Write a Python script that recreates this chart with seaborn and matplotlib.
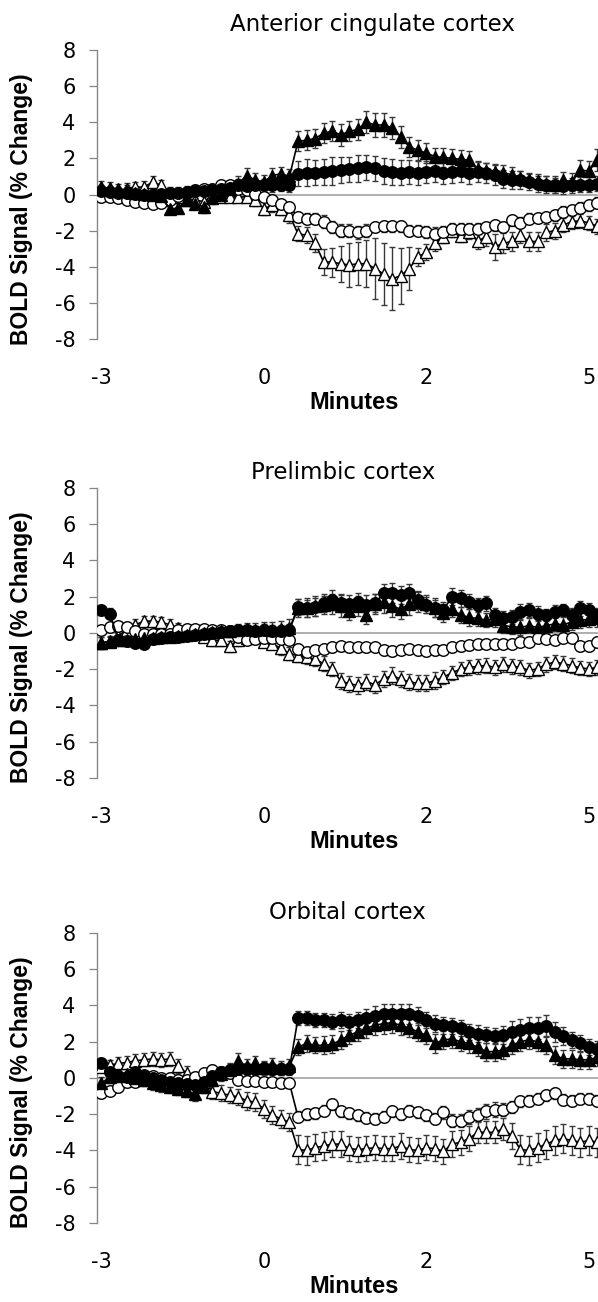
import numpy as np
import pandas as pd
import seaborn as sns
import matplotlib.pyplot as plt

# sample index along the category axis (one entry per scan point)
n_points = 59
sample_idx = np.arange(n_points)

x_tick_labels = ["-3", "0", "2", "5"]
x_tick_idx = [0, 19, 38, 57]
y_tick_labels = ["-8", "-6", "-4", "-2", "0", "2", "4", "6", "8"]

titles = ["Anterior cingulate cortex", "Prelimbic cortex", "Orbital cortex"]

# ---- Anterior cingulate cortex ----
acc_ft = [0.4, 0.35, 0.3, 0.2, 0.1, 0.05, 0.0, -0.1, -0.8, -0.75, -0.3, -0.5,
          -0.7, -0.2, 0.0, 0.3, 0.6, 1.05, 0.8, 0.7, 1.05, 1.15, 1.0,
          2.95, 3.0, 3.1, 3.4, 3.5, 3.3, 3.5, 3.6, 4.0, 3.85, 3.85, 3.7,
          3.2, 2.65, 2.45, 2.3, 2.1, 2.05, 2.0, 1.95, 1.9, 1.4, 1.3, 1.25,
          1.2, 1.1, 0.9, 0.8, 0.75, 0.6, 0.55, 0.8, 0.7, 1.35, 1.3, 1.9]
acc_fc = [0.2, 0.15, 0.1, 0.1, 0.05, 0.0, 0.0, 0.05, 0.1, 0.1, 0.15, 0.2,
          0.2, 0.25, 0.3, 0.35, 0.5, 0.45, 0.5, 0.5, 0.5, 0.55, 0.5,
          1.15, 1.2, 1.2, 1.25, 1.3, 1.35, 1.4, 1.45, 1.5, 1.45, 1.3, 1.25,
          1.2, 1.25, 1.2, 1.25, 1.3, 1.2, 1.25, 1.3, 1.2, 1.25, 1.2, 1.1,
          0.85, 0.8, 0.8, 0.7, 0.6, 0.55, 0.5, 0.45, 0.5, 0.55, 0.55, 0.6]
acc_oc = [-0.13, -0.15, -0.2, -0.3, -0.4, -0.45, -0.5, -0.45, -0.3, -0.1, 0.1, 0.24,
          0.33, 0.33, 0.5, 0.5, 0.33, 0.24, 0.05, -0.13, -0.3, -0.5, -0.7,
          -1.24, -1.33, -1.33, -1.5, -1.8, -2.0, -2.0, -2.1, -2.0, -1.8, -1.76, -1.76,
          -1.76, -2.0, -2.0, -2.07, -2.17, -2.07, -1.9, -1.9, -1.9, -1.9, -1.8, -1.7,
          -1.8, -1.43, -1.57, -1.33, -1.3, -1.24, -1.15, -0.96, -0.87, -0.72, -0.6, -0.46]
acc_ot = [0.15, -0.04, -0.04, 0.33, 0.42, 0.4, 0.7, 0.5, -0.13, -0.13, -0.3, -0.3,
          -0.4, -0.04, -0.13, -0.13, -0.13, -0.13, -0.3, -0.78, -0.6, -0.78, -1.15,
          -2.17, -2.26, -2.7, -3.74, -3.74, -3.83, -3.9, -3.83, -3.83, -4.1, -4.4, -4.67,
          -4.5, -4.1, -3.46, -3.2, -2.7, -2.35, -2.0, -2.3, -2.07, -2.57, -2.35, -2.9,
          -2.7, -2.6, -2.26, -2.6, -2.6, -2.1, -2.0, -1.7, -1.5, -1.46, -1.57, -1.76]
acc_ft_err = [0.35, 0.35, 0.3, 0.3, 0.3, 0.3, 0.3, 0.3, 0.3, 0.3, 0.3, 0.3,
              0.3, 0.3, 0.3, 0.35, 0.4, 0.4, 0.4, 0.4, 0.4, 0.4, 0.4,
              0.55, 0.55, 0.5, 0.55, 0.55, 0.6, 0.55, 0.6, 0.6, 0.65, 0.65, 0.6,
              0.6, 0.55, 0.55, 0.55, 0.5, 0.5, 0.5, 0.5, 0.5, 0.45, 0.45, 0.45,
              0.45, 0.45, 0.4, 0.4, 0.4, 0.4, 0.45, 0.45, 0.5, 0.55, 0.55, 0.6]
acc_fc_err = [0.3, 0.3, 0.3, 0.3, 0.3, 0.3, 0.3, 0.3, 0.3, 0.3, 0.3, 0.3,
              0.3, 0.3, 0.3, 0.3, 0.35, 0.35, 0.35, 0.35, 0.35, 0.35, 0.35,
              0.7, 0.75, 0.7, 0.7, 0.75, 0.7, 0.7, 0.75, 0.7, 0.7, 0.7, 0.7,
              0.7, 0.65, 0.65, 0.6, 0.6, 0.6, 0.6, 0.6, 0.6, 0.55, 0.55, 0.55,
              0.5, 0.5, 0.5, 0.45, 0.45, 0.45, 0.4, 0.4, 0.4, 0.4, 0.4, 0.4]
acc_oc_err = [0.2, 0.2, 0.2, 0.2, 0.2, 0.25, 0.25, 0.2, 0.2, 0.2, 0.2, 0.2,
              0.2, 0.2, 0.2, 0.2, 0.2, 0.2, 0.2, 0.25, 0.25, 0.25, 0.3,
              0.3, 0.3, 0.3, 0.35, 0.35, 0.35, 0.35, 0.35, 0.35, 0.3, 0.3, 0.3,
              0.3, 0.3, 0.3, 0.35, 0.35, 0.35, 0.3, 0.3, 0.3, 0.3, 0.3, 0.3,
              0.3, 0.3, 0.3, 0.3, 0.3, 0.3, 0.3, 0.3, 0.3, 0.3, 0.3, 0.3]
acc_ot_err = [0.3, 0.3, 0.35, 0.3, 0.3, 0.35, 0.3, 0.3, 0.3, 0.35, 0.3, 0.3,
              0.3, 0.3, 0.3, 0.3, 0.3, 0.3, 0.35, 0.35, 0.35, 0.35, 0.4,
              0.4, 0.45, 0.5, 0.7, 0.8, 1.0, 1.2, 1.2, 1.3, 1.7, 1.7, 1.75,
              1.55, 1.2, 0.5, 0.45, 0.4, 0.35, 0.35, 0.35, 0.4, 0.45, 0.5, 0.7,
              0.55, 0.5, 0.45, 0.5, 0.5, 0.45, 0.45, 0.4, 0.4, 0.4, 0.4, 0.4]

# ---- Prelimbic cortex ----
pl_ft = [-0.55, -0.5, -0.4, -0.4, -0.35, -0.3, -0.3, -0.25, -0.2, -0.15, -0.1, -0.05,
         0.0, 0.05, 0.1, 0.1, 0.15, 0.2, 0.15, 0.2, 0.15, 0.2, 0.25,
         1.35, 1.4, 1.5, 1.55, 1.6, 1.5, 1.2, 1.5, 1.0, 1.6, 1.7, 1.5,
         1.3, 1.6, 1.7, 1.6, 1.4, 1.1, 1.3, 1.0, 0.85, 0.8, 0.7, 0.75,
         0.4, 0.35, 0.3, 0.4, 0.3, 0.4, 0.5, 0.45, 0.6, 0.7, 0.75, 0.8]
pl_fc = [1.26, 1.07, -0.4, -0.45, -0.55, -0.6, -0.35, -0.3, -0.25, -0.2, -0.15, -0.1,
         -0.05, 0.0, 0.05, 0.1, 0.15, 0.15, 0.1, 0.15, 0.1, 0.1, 0.15,
         1.44, 1.35, 1.44, 1.63, 1.8, 1.63, 1.6, 1.72, 1.54, 1.63, 2.19, 2.19,
         2.1, 2.19, 1.8, 1.54, 1.35, 1.26, 2.0, 1.9, 1.72, 1.54, 1.63, 0.98,
         0.8, 0.89, 1.17, 1.26, 1.07, 0.98, 1.17, 1.26, 1.0, 1.35, 1.26, 0.98]
pl_oc = [0.15, 0.33, 0.37, 0.33, 0.1, -0.07, -0.07, -0.07, -0.05, 0.15, 0.2, 0.24,
         0.2, 0.15, 0.15, 0.1, -0.2, -0.4, -0.35, -0.3, -0.3, -0.35, -0.4,
         -0.87, -1.05, -0.96, -0.87, -0.8, -0.74, -0.8, -0.8, -0.8, -0.8, -0.96, -1.0,
         -0.93, -0.87, -0.96, -1.0, -0.96, -0.93, -0.8, -0.74, -0.68, -0.63, -0.6, -0.63,
         -0.6, -0.6, -0.5, -0.5, -0.26, -0.31, -0.37, -0.26, -0.26, -0.74, -0.74, -0.5]
pl_ot = [-0.55, -0.45, -0.15, 0.15, 0.45, 0.65, 0.65, 0.6, 0.45, 0.25, 0.15, 0.1,
         -0.2, -0.4, -0.4, -0.75, -0.4, -0.3, -0.25, -0.5, -0.6, -0.85, -1.15,
         -1.25, -1.35, -1.45, -1.7, -2.0, -2.65, -2.8, -2.9, -2.7, -2.85, -2.55, -2.35,
         -2.55, -2.7, -2.78, -2.78, -2.63, -2.44, -2.2, -2.0, -1.9, -1.85, -1.8, -1.9,
         -1.74, -1.85, -1.9, -2.07, -1.98, -1.74, -1.6, -1.7, -1.8, -1.93, -1.98, -1.9]
pl_ft_err = [0.35, 0.3, 0.3, 0.3, 0.3, 0.3, 0.3, 0.3, 0.3, 0.3, 0.3, 0.3,
             0.3, 0.3, 0.3, 0.3, 0.35, 0.35, 0.4, 0.4, 0.45, 0.45, 0.5,
             0.5, 0.5, 0.55, 0.5, 0.55, 0.6, 0.5, 0.55, 0.5, 0.55, 0.6, 0.6,
             0.55, 0.6, 0.55, 0.5, 0.5, 0.5, 0.45, 0.45, 0.45, 0.4, 0.4, 0.4,
             0.4, 0.4, 0.4, 0.4, 0.4, 0.4, 0.4, 0.4, 0.45, 0.45, 0.45, 0.45]
pl_fc_err = [0.3, 0.3, 0.25, 0.25, 0.25, 0.25, 0.25, 0.25, 0.25, 0.25, 0.25, 0.25,
             0.25, 0.25, 0.25, 0.3, 0.3, 0.3, 0.3, 0.35, 0.35, 0.35, 0.35,
             0.45, 0.45, 0.5, 0.5, 0.55, 0.5, 0.5, 0.5, 0.55, 0.5, 0.5, 0.55,
             0.5, 0.5, 0.5, 0.45, 0.45, 0.45, 0.45, 0.45, 0.4, 0.4, 0.4, 0.4,
             0.4, 0.4, 0.4, 0.4, 0.4, 0.35, 0.35, 0.35, 0.4, 0.4, 0.4, 0.4]
pl_oc_err = [0.2, 0.2, 0.2, 0.2, 0.2, 0.2, 0.2, 0.2, 0.2, 0.2, 0.2, 0.2,
             0.2, 0.2, 0.2, 0.2, 0.2, 0.2, 0.2, 0.2, 0.2, 0.2, 0.2,
             0.25, 0.25, 0.25, 0.25, 0.25, 0.25, 0.25, 0.25, 0.25, 0.25, 0.25, 0.25,
             0.25, 0.25, 0.25, 0.25, 0.25, 0.25, 0.25, 0.25, 0.25, 0.25, 0.25, 0.25,
             0.25, 0.25, 0.25, 0.25, 0.25, 0.25, 0.25, 0.25, 0.25, 0.25, 0.25, 0.25]
pl_ot_err = [0.3, 0.3, 0.3, 0.3, 0.3, 0.3, 0.3, 0.3, 0.3, 0.3, 0.3, 0.3,
             0.3, 0.3, 0.3, 0.3, 0.3, 0.3, 0.3, 0.3, 0.3, 0.35, 0.35,
             0.35, 0.35, 0.4, 0.4, 0.4, 0.45, 0.45, 0.45, 0.45, 0.45, 0.45, 0.45,
             0.45, 0.45, 0.45, 0.45, 0.45, 0.4, 0.4, 0.4, 0.4, 0.4, 0.4, 0.4,
             0.4, 0.4, 0.4, 0.4, 0.4, 0.4, 0.4, 0.4, 0.4, 0.4, 0.4, 0.4]

# ---- Orbital cortex ----
orb_ft = [-0.3, 0.05, 0.1, 0.2, 0.0, -0.1, -0.3, -0.4, -0.5, -0.6, -0.7, -0.9,
          -0.5, -0.1, 0.2, 0.45, 0.95, 0.65, 0.8, 0.55, 0.7, 0.55, 0.65,
          1.7, 1.9, 1.8, 1.8, 1.85, 2.1, 2.35, 2.55, 2.75, 2.9, 3.0, 3.05,
          2.9, 2.75, 2.55, 2.35, 1.9, 2.1, 2.15, 2.0, 1.9, 1.7, 1.45, 1.45,
          1.55, 1.8, 2.0, 2.1, 2.0, 1.8, 1.25, 1.05, 1.05, 1.0, 1.0, 1.15]
orb_fc = [0.8, 0.3, 0.1, 0.05, 0.3, 0.1, 0.0, -0.1, -0.2, -0.3, -0.35, -0.4,
          -0.2, 0.1, 0.3, 0.45, 0.5, 0.5, 0.5, 0.55, 0.5, 0.5, 0.5,
          3.3, 3.3, 3.2, 3.2, 3.1, 3.2, 3.1, 3.2, 3.3, 3.4, 3.5, 3.55,
          3.55, 3.5, 3.4, 3.2, 3.0, 2.9, 2.85, 2.75, 2.55, 2.45, 2.35, 2.3,
          2.35, 2.55, 2.65, 2.75, 2.75, 2.85, 2.55, 2.3, 2.1, 1.9, 1.7, 1.6]
orb_oc = [-0.85, -0.7, -0.5, -0.25, -0.2, 0.15, 0.1, 0.0, 0.0, -0.1, -0.1, 0.05,
          0.25, 0.45, 0.35, 0.25, -0.1, -0.15, -0.15, -0.2, -0.25, -0.3, -0.3,
          -2.15, -2.0, -1.95, -1.8, -1.45, -1.85, -1.95, -2.05, -2.2, -2.25, -2.15, -1.85,
          -2.0, -1.8, -1.9, -2.05, -2.25, -1.9, -2.35, -2.35, -2.15, -2.05, -1.85, -1.75,
          -1.75, -1.6, -1.3, -1.25, -1.15, -0.95, -0.85, -1.2, -1.25, -1.15, -1.15, -1.25]
orb_ot = [0.6, 0.7, 0.8, 0.85, 0.95, 1.0, 1.05, 1.0, 1.05, 0.65, 0.25, -0.15,
          -0.2, -0.75, -0.85, -0.95, -1.05, -1.25, -1.35, -1.7, -2.05, -2.25, -2.45,
          -3.95, -4.0, -3.85, -3.75, -3.65, -3.65, -3.9, -3.95, -3.9, -3.85, -3.9, -3.9,
          -3.75, -3.95, -4.0, -3.85, -3.9, -4.05, -3.65, -3.55, -3.35, -3.0, -3.0, -3.0,
          -2.8, -3.2, -3.95, -4.0, -3.85, -3.65, -3.45, -3.35, -3.45, -3.55, -3.45, -3.55]
orb_ft_err = [0.35, 0.35, 0.35, 0.35, 0.35, 0.35, 0.35, 0.35, 0.35, 0.35, 0.35, 0.35,
              0.35, 0.35, 0.35, 0.35, 0.4, 0.4, 0.4, 0.4, 0.4, 0.4, 0.4,
              0.45, 0.45, 0.45, 0.5, 0.5, 0.5, 0.5, 0.5, 0.55, 0.55, 0.55, 0.55,
              0.55, 0.5, 0.5, 0.5, 0.5, 0.5, 0.5, 0.5, 0.5, 0.5, 0.5, 0.5,
              0.5, 0.5, 0.5, 0.5, 0.5, 0.5, 0.5, 0.5, 0.5, 0.5, 0.5, 0.5]
orb_fc_err = [0.3, 0.3, 0.3, 0.3, 0.3, 0.3, 0.3, 0.3, 0.3, 0.3, 0.3, 0.3,
              0.3, 0.3, 0.3, 0.3, 0.35, 0.35, 0.35, 0.35, 0.35, 0.35, 0.35,
              0.4, 0.4, 0.4, 0.4, 0.4, 0.45, 0.45, 0.45, 0.5, 0.55, 0.55, 0.55,
              0.55, 0.55, 0.5, 0.45, 0.45, 0.45, 0.45, 0.45, 0.45, 0.45, 0.45, 0.45,
              0.5, 0.6, 0.6, 0.6, 0.6, 0.6, 0.55, 0.5, 0.45, 0.45, 0.45, 0.45]
orb_oc_err = [0.25, 0.25, 0.25, 0.25, 0.25, 0.25, 0.25, 0.25, 0.25, 0.25, 0.25, 0.25,
              0.25, 0.25, 0.25, 0.25, 0.25, 0.25, 0.25, 0.25, 0.25, 0.25, 0.25,
              0.3, 0.3, 0.3, 0.3, 0.3, 0.3, 0.3, 0.3, 0.3, 0.3, 0.3, 0.3,
              0.3, 0.3, 0.3, 0.3, 0.3, 0.35, 0.35, 0.35, 0.4, 0.4, 0.4, 0.4,
              0.35, 0.35, 0.3, 0.3, 0.3, 0.3, 0.3, 0.3, 0.3, 0.3, 0.3, 0.3]
orb_ot_err = [0.3, 0.3, 0.35, 0.35, 0.35, 0.35, 0.4, 0.4, 0.4, 0.4, 0.4, 0.4,
              0.4, 0.4, 0.45, 0.45, 0.45, 0.5, 0.5, 0.5, 0.5, 0.5, 0.5,
              0.8, 0.8, 0.75, 0.75, 0.7, 0.7, 0.7, 0.7, 0.7, 0.7, 0.7, 0.7,
              0.7, 0.7, 0.7, 0.7, 0.7, 0.7, 0.7, 0.7, 0.7, 0.6, 0.6, 0.6,
              0.6, 0.7, 0.8, 0.8, 0.8, 0.8, 0.8, 0.8, 0.8, 0.8, 0.8, 0.8]

panels = [
    [(acc_ot, acc_ot_err), (acc_oc, acc_oc_err), (acc_fc, acc_fc_err), (acc_ft, acc_ft_err)],
    [(pl_ot, pl_ot_err), (pl_oc, pl_oc_err), (pl_fc, pl_fc_err), (pl_ft, pl_ft_err)],
    [(orb_ot, orb_ot_err), (orb_oc, orb_oc_err), (orb_fc, orb_fc_err), (orb_ft, orb_ft_err)],
]
# marker, face colour for: open triangle, open circle, filled circle, filled triangle
series_style = [("^", "white"), ("o", "white"), ("o", "black"), ("^", "black")]

sns.set_style("white")
# the source image is a little stretched sideways, DejaVu's wider glyphs match it better
plt.rcParams["font.family"] = ["DejaVu Sans"]
plt.rcParams["text.color"] = "black"
plt.rcParams["axes.labelcolor"] = "black"
bold_font = ["Liberation Sans", "DejaVu Sans"]

fig = plt.figure(figsize=(5.98, 13.02), dpi=100)

# axes boxes in figure fraction (plot area is cropped at the right edge)
ax_boxes = [[0.1622, 0.7396, 0.9298, 0.2220],
            [0.1622, 0.4025, 0.9298, 0.2228],
            [0.1622, 0.0607, 0.9298, 0.2228]]
title_x = [0.496, 0.442, 0.451]
title_pad = [14, 6.5, 10]

for p, series in enumerate(panels):
    ax = fig.add_axes(ax_boxes[p])
    ax.axhline(0, color="#a8a8a8", lw=1.3, zorder=1)
    for (vals, err), (mk, face) in zip(series, series_style):
        ax.errorbar(sample_idx, vals, yerr=err, fmt="none", ecolor="#383838",
                    elinewidth=1.0, capsize=2.5, capthick=1.0, zorder=2)
        sns.lineplot(x=sample_idx, y=vals, ax=ax, color="black", linewidth=1.2,
                     marker=mk, markersize=8.3, markerfacecolor=face,
                     markeredgecolor="black", markeredgewidth=1.0, zorder=3)

    ax.set_xlim(-0.5, 64.5)
    ax.set_ylim(-8, 8)
    ax.set_yticks(range(-8, 9, 2))
    ax.set_yticklabels(y_tick_labels, fontsize=15)
    ax.set_xticks(x_tick_idx)
    ax.set_xticklabels(x_tick_labels, fontsize=15)
    ax.tick_params(axis="x", length=0, pad=21, labelcolor="black")
    ax.tick_params(axis="y", length=5.5, width=0.9, color="#868686", pad=10,
                   left=True, labelcolor="black")
    for s in ["top", "right", "bottom"]:
        ax.spines[s].set_visible(False)
    ax.spines["left"].set_color("#868686")
    ax.spines["left"].set_linewidth(1.0)

    ax.set_title(titles[p], fontsize=16.5, x=title_x[p], pad=title_pad[p], color="black")
    ax.set_ylabel("BOLD Signal (% Change)", fontsize=16.5, fontweight="bold",
                  family=bold_font, color="black")
    ax.yaxis.set_label_coords(-0.115, 0.45)
    ax.set_xlabel("Minutes", fontsize=17, fontweight="bold", family=bold_font,
                  color="black")
    ax.xaxis.set_label_coords(0.462, -0.18)

fig.savefig("out.png", dpi=100)
